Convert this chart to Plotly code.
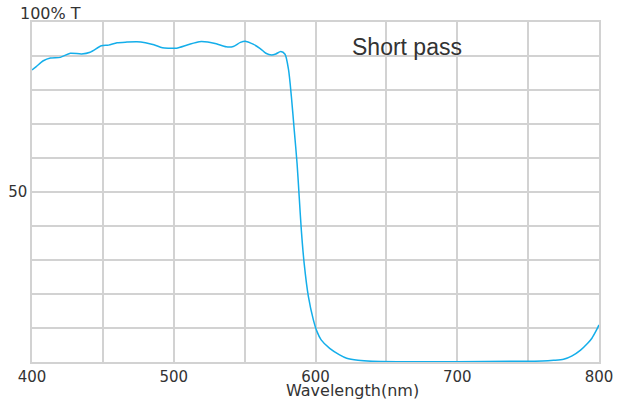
import plotly.graph_objects as go

wavelength = [400, 403, 408, 413, 420, 427, 435, 441, 449, 454, 460, 467, 474, 480, 486, 492,
              497, 502, 510, 518, 524, 530, 537, 542, 547, 551, 556, 561, 565, 569, 572, 575.5,
              578.5, 581, 583, 585, 587, 588.5, 590, 592, 595, 598.5, 601, 604, 610, 617, 622,
              630, 640, 660, 700, 740, 760, 768, 775, 781, 787, 792, 795, 798, 800]
transmission = [85.9, 86.9, 88.6, 89.4, 89.6, 90.8, 90.6, 91.1, 93.0, 93.2, 93.9, 94.1, 94.2, 93.9, 93.3, 92.4,
                92.3, 92.3, 93.3, 94.2, 94.1, 93.6, 92.7, 92.8, 94.0, 94.3, 93.5, 92.2, 90.8, 90.3, 90.6, 91.3,
                90.5, 85.9, 78.0, 68.2, 58.4, 48.6, 38.8, 29.0, 19.2, 12.4, 9.0, 6.5, 4.0, 2.1, 1.1,
                0.5, 0.2, 0.1, 0.1, 0.2, 0.3, 0.5, 0.8, 1.8, 3.5, 5.5, 7.0, 9.2, 10.9]

x_ticks = [400, 450, 500, 550, 600, 650, 700, 750, 800]
x_ticktext = ["400", "", "500", "", "600", "", "700", "", "800"]
y_ticks = [0, 10, 20, 30, 40, 50, 60, 70, 80, 90, 100]
y_ticktext = ["", "", "", "", "", "50", "", "", "", "", ""]

grid = "#d2d2d2"
font = "DejaVu Sans"
txt = "#333333"

fig = go.Figure()
fig.add_trace(go.Scatter(x=wavelength, y=transmission, mode="lines",
                         line=dict(color="#14AEEA", width=1.5, shape="spline", smoothing=0.7),
                         hoverinfo="skip", showlegend=False))

W, H = 628, 405
L, R, T, B = 32, 29, 22, 43
pw = W - L - R
ph = H - T - B

fig.update_layout(
    width=W, height=H,
    margin=dict(l=L, r=R, t=T, b=B, pad=0, autoexpand=False),
    paper_bgcolor="white", plot_bgcolor="white",
    font=dict(family=font, size=15, color=txt),
    xaxis=dict(range=[400, 800], tickvals=x_ticks, ticktext=x_ticktext, automargin=False,
               showgrid=True, gridcolor=grid, gridwidth=1.5,
               showline=True, linecolor=grid, linewidth=1.5, mirror=True,
               zeroline=False, ticks="", tickfont=dict(family=font, size=15, color=txt)),
    yaxis=dict(range=[0, 100], tickvals=y_ticks, ticktext=y_ticktext, automargin=False,
               showgrid=True, gridcolor=grid, gridwidth=1.5,
               showline=True, linecolor=grid, linewidth=1.5, mirror=True,
               zeroline=False, ticks="", tickfont=dict(family=font, size=15, color=txt)),
    annotations=[
        dict(text="100% T", xref="paper", yref="paper", x=(18 - L) / pw, y=(362 - 13) / ph,
             xanchor="left", yanchor="middle", showarrow=False,
             font=dict(family=font, size=16, color=txt)),
        dict(text="Wavelength(nm)", xref="paper", yref="paper", x=(352 - L) / pw, y=(362 - 390) / ph,
             xanchor="center", yanchor="middle", showarrow=False,
             font=dict(family=font, size=16, color=txt)),
        dict(text="Short pass", xref="paper", yref="paper", x=(406.5 - L) / pw, y=(362 - 47) / ph,
             xanchor="center", yanchor="middle", showarrow=False,
             font=dict(family="Liberation Sans", size=23, color=txt)),
    ],
)

fig.write_html("out.html", config={"displayModeBar": False},
               post_script="document.body.style.margin='0';")
